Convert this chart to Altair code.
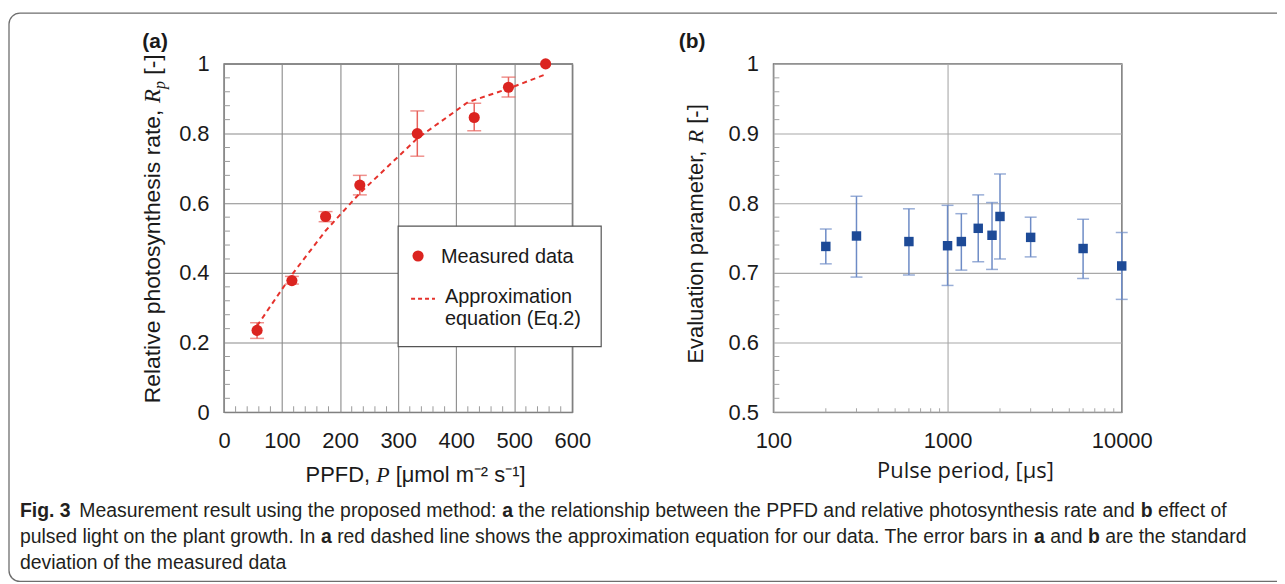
import altair as alt
import pandas as pd

# ---------------- panel (a): PPFD vs relative photosynthesis rate ----------------
ppfd = [57, 117, 175, 234, 333, 431, 490, 554]
rp_mean = [0.235, 0.378, 0.562, 0.652, 0.800, 0.846, 0.933, 1.000]
rp_low = [0.212, 0.368, 0.547, 0.624, 0.735, 0.808, 0.905, 1.000]
rp_high = [0.257, 0.390, 0.576, 0.680, 0.865, 0.887, 0.962, 1.000]
fit_ppfd = [57, 117, 175, 234, 333, 420, 490, 554]
fit_rp = [0.248, 0.395, 0.521, 0.629, 0.786, 0.890, 0.929, 0.970]

# ---------------- panel (b): pulse period vs evaluation parameter ----------------
period = [200, 300, 600, 1000, 1200, 1500, 1800, 2000, 3000, 6000, 10000]
r_mean = [0.738, 0.753, 0.745, 0.739, 0.745, 0.764, 0.754, 0.781, 0.751, 0.735, 0.710]
r_low = [0.713, 0.694, 0.697, 0.682, 0.704, 0.716, 0.705, 0.720, 0.723, 0.692, 0.662]
r_high = [0.763, 0.810, 0.792, 0.797, 0.785, 0.812, 0.801, 0.842, 0.780, 0.777, 0.758]

# ---------------- axis tick values ----------------
xa_major = [0, 100, 200, 300, 400, 500, 600]
ya_major = [0, 0.2, 0.4, 0.6, 0.8, 1.0]
xa_minor = [v for v in range(20, 600, 20) if v % 100]
ya_minor = [round(0.04 * i, 2) for i in range(1, 25) if i % 5]
xb_major = [100, 1000, 10000]
yb_major = [0.5, 0.6, 0.7, 0.8, 0.9, 1.0]
xb_minor = [200, 300, 400, 500, 600, 700, 800, 900, 2000, 3000, 4000, 5000, 6000, 7000, 8000, 9000]
yb_minor = [round(0.5 + 0.02 * i, 2) for i in range(1, 25) if i % 5]

# ---------------- caption text ----------------
caption_lines = [
    [("Fig. 3", True), ("Measurement result using the proposed method:", False), ("a", True),
     ("the relationship between the PPFD and relative photosynthesis rate and", False), ("b", True),
     ("effect of", False)],
    [("pulsed light on the plant growth. In", False), ("a", True),
     ("red dashed line shows the approximation equation for our data. The error bars in", False),
     ("a", True), ("and", False), ("b", True), ("are the standard", False)],
    [("deviation of the measured data", False)],
]

# ---------------- styling ----------------
SANS = "Liberation Sans"
SERIF = "Liberation Serif"
RED = "#db2420"
RED_ERR = "#e8625c"
RED_LINE = "#e5322c"
BLUE = "#1d4a97"
BLUE_ERR = "#6d8bc6"
TXT = "#1a1a1a"
W = H = 350

# Arial / Liberation Sans advance widths (per 1000 em)
_reg = dict(zip("abcdefghijklmnopqrstuvwxyz",
                [556, 556, 500, 556, 556, 278, 556, 556, 222, 222, 500, 222, 833, 556, 556, 556, 556, 333, 500,
                 278, 556, 500, 722, 500, 500, 500]))
_reg.update(dict(zip("ABCDEFGHIJKLMNOPQRSTUVWXYZ",
                     [667, 667, 722, 722, 667, 611, 778, 722, 278, 500, 667, 556, 833, 722, 778, 667, 778, 722,
                      667, 611, 722, 667, 944, 667, 667, 611])))
_reg.update({" ": 278, ".": 278, ",": 278, ":": 278, "3": 556, "-": 333, "[": 278, "]": 278})
_bold = dict(zip("abcdefghijklmnopqrstuvwxyz",
                 [556, 611, 556, 611, 556, 333, 611, 611, 278, 278, 556, 278, 889, 611, 611, 611, 611, 389, 556,
                  333, 611, 556, 778, 556, 556, 500]))
_bold.update({" ": 278, ".": 278, "3": 556, "F": 611})


def tw(s, size, bold=False):
    table = _bold if bold else _reg
    return sum(table.get(c, 556) for c in s) * size / 1000.0


ONE = pd.DataFrame({"k": [0]})


def txt(s, x, y, size=22, font=SANS, weight="normal", style="normal", align="left",
        baseline="alphabetic", angle=None, color=TXT):
    kw = dict(text=s, font=font, fontSize=size, fontWeight=weight, fontStyle=style,
              align=align, baseline=baseline, color=color)
    if angle is not None:
        kw["angle"] = angle
    return alt.Chart(ONE).mark_text(**kw).encode(x=alt.value(x), y=alt.value(y))


axis_common = dict(domain=False, ticks=False, tickSize=0, grid=True, gridWidth=1.1, title=None,
                   labelFont=SANS, labelFontSize=22, labelColor=TXT, labelOverlap=False, labelFlush=False)

# ================= panel (a) =================
OXA, OYA = 225, 62  # page position of panel (a) plot origin
xa = alt.Scale(domain=[0, 600], nice=False, zero=False)
ya = alt.Scale(domain=[0, 1], nice=False)
AXA_X = alt.Axis(values=xa_major, format="d", labelPadding=18, gridColor="#8a8a8a", **axis_common)
AXA_Y = alt.Axis(values=ya_major, format="~g", labelPadding=15, gridColor="#8a8a8a", **axis_common)

df_a = pd.DataFrame({"p": ppfd, "r": rp_mean, "lo": rp_low, "hi": rp_high})
df_a_err = df_a[df_a["hi"] > df_a["lo"]]
df_fit = pd.DataFrame({"p": fit_ppfd, "r": fit_rp})

frame = alt.Chart(ONE).mark_rect(fill=None, stroke="#6e6e6e", strokeWidth=1.3, cornerRadius=11).encode(
    x=alt.value(9 - OXA), x2=alt.value(1300 - OXA), y=alt.value(11 - OYA), y2=alt.value(582 - OYA))

a_minx = alt.Chart(pd.DataFrame({"v": xa_minor})).mark_rule(color="#9a9a9a", strokeWidth=1).encode(
    x=alt.X("v:Q", scale=xa, axis=AXA_X), y=alt.value(H), y2=alt.value(H - 6))
a_miny = alt.Chart(pd.DataFrame({"v": ya_minor})).mark_rule(color="#9a9a9a", strokeWidth=1).encode(
    y=alt.Y("v:Q", scale=ya, axis=AXA_Y), x=alt.value(0), x2=alt.value(6))

a_err = alt.Chart(df_a_err).mark_rule(color=RED_ERR, strokeWidth=1.5).encode(
    x=alt.X("p:Q", scale=xa, axis=AXA_X), y=alt.Y("lo:Q", scale=ya, axis=AXA_Y), y2="hi:Q")
a_cap_lo = alt.Chart(df_a_err).mark_tick(color=RED_ERR, orient="horizontal", size=14, thickness=1.5).encode(
    x=alt.X("p:Q", scale=xa, axis=AXA_X), y=alt.Y("lo:Q", scale=ya, axis=AXA_Y))
a_cap_hi = alt.Chart(df_a_err).mark_tick(color=RED_ERR, orient="horizontal", size=14, thickness=1.5).encode(
    x=alt.X("p:Q", scale=xa, axis=AXA_X), y=alt.Y("hi:Q", scale=ya, axis=AXA_Y))
a_fit = alt.Chart(df_fit).mark_line(color=RED_LINE, strokeWidth=2, strokeDash=[5, 4]).encode(
    x=alt.X("p:Q", scale=xa, axis=AXA_X), y=alt.Y("r:Q", scale=ya, axis=AXA_Y))
a_pts = alt.Chart(df_a).mark_circle(color=RED, size=125, opacity=1).encode(
    x=alt.X("p:Q", scale=xa, axis=AXA_X), y=alt.Y("r:Q", scale=ya, axis=AXA_Y))

# legend box of panel (a)
leg_box = alt.Chart(ONE).mark_rect(fill="white", stroke="#555555", strokeWidth=1.2).encode(
    x=alt.value(175), x2=alt.value(379), y=alt.value(163), y2=alt.value(284))
leg_pt = alt.Chart(ONE).mark_circle(color=RED, size=125, opacity=1).encode(x=alt.value(195), y=alt.value(193))
leg_line = alt.Chart(ONE).mark_rule(color=RED_LINE, strokeWidth=2, strokeDash=[4, 3]).encode(
    x=alt.value(188), x2=alt.value(212), y=alt.value(236))
leg_t1 = txt("Measured data", 218, 200, size=20)
leg_t2 = txt("Approximation", 222, 240, size=20)
leg_t3 = txt("equation (Eq.2)", 222, 262, size=20)

# axis titles of panel (a), composed of sans + italic serif parts
xt_x0 = 307 - OXA
xt_b = 482 - OYA
s1 = "PPFD,"
a_xt1 = txt(s1, xt_x0, xt_b, size=22)
x_p = xt_x0 + tw(s1 + " ", 22)
a_xt2 = txt("P", x_p, xt_b, size=22, font=SERIF, style="italic")
a_xt3 = txt("[μmol m⁻² s⁻¹]", x_p + 0.611 * 22 + tw(" ", 22), xt_b, size=22)

yt_x = 161 - OXA
yt_y0 = 403 - OYA
s2 = "Relative photosynthesis rate,"
a_yt1 = txt(s2, yt_x, yt_y0, size=23, angle=270)
y_r = yt_y0 - tw(s2 + " ", 23)
a_yt2 = txt("R", yt_x, y_r, size=23, font=SERIF, style="italic", angle=270)
a_yt3 = txt("p", yt_x + 5, y_r - 0.611 * 23, size=16, font=SERIF, style="italic", angle=270)
a_yt4 = txt("[-]", yt_x, y_r - 0.611 * 23 - 0.5 * 16 - tw(" ", 23), size=23, angle=270)

a_lab = txt("(a)", 143 - OXA, 46 - OYA, size=21, weight="bold")

# caption
cap_layers = []
CAP = 19.5
for i, line in enumerate(caption_lines):
    x = 20 - OXA
    yb = [517, 543, 569][i] - OYA
    for j, (seg, bold) in enumerate(line):
        cap_layers.append(txt(seg, x, yb, size=CAP, weight="bold" if bold else "normal", color="#231f20"))
        x += tw(seg, CAP, bold) + tw(" ", CAP)
        if seg == "Fig. 3":
            x += tw(" ", CAP) * 0.6

panel_a = alt.layer(
    frame, a_minx, a_miny, a_err, a_cap_lo, a_cap_hi, a_fit, a_pts,
    leg_box, leg_pt, leg_line, leg_t1, leg_t2, leg_t3,
    a_xt1, a_xt2, a_xt3, a_yt1, a_yt2, a_yt3, a_yt4, a_lab, *cap_layers
).properties(width=W, height=H)

# ================= panel (b) =================
OXB, OYB = 772, 62
xb = alt.Scale(type="log", domain=[100, 10000], nice=False)
yb = alt.Scale(domain=[0.5, 1.0], nice=False, zero=False)
AXB_X = alt.Axis(values=xb_major, format="d", labelPadding=18, gridColor="#a8a8a8", **axis_common)
AXB_Y = alt.Axis(values=yb_major, format="~g", labelPadding=15, gridColor="#a8a8a8", **axis_common)
df_b = pd.DataFrame({"t": period, "r": r_mean, "lo": r_low, "hi": r_high})

b_minx = alt.Chart(pd.DataFrame({"v": xb_minor})).mark_rule(color="#a5a5a5", strokeWidth=1).encode(
    x=alt.X("v:Q", scale=xb, axis=AXB_X), y=alt.value(H), y2=alt.value(H - 4))
b_miny = alt.Chart(pd.DataFrame({"v": yb_minor})).mark_rule(color="#a5a5a5", strokeWidth=1).encode(
    y=alt.Y("v:Q", scale=yb, axis=AXB_Y), x=alt.value(0), x2=alt.value(6))
b_err = alt.Chart(df_b).mark_rule(color=BLUE_ERR, strokeWidth=1.5).encode(
    x=alt.X("t:Q", scale=xb, axis=AXB_X), y=alt.Y("lo:Q", scale=yb, axis=AXB_Y), y2="hi:Q")
b_cap_lo = alt.Chart(df_b).mark_tick(color=BLUE_ERR, orient="horizontal", size=12, thickness=1.5).encode(
    x=alt.X("t:Q", scale=xb, axis=AXB_X), y=alt.Y("lo:Q", scale=yb, axis=AXB_Y))
b_cap_hi = alt.Chart(df_b).mark_tick(color=BLUE_ERR, orient="horizontal", size=12, thickness=1.5).encode(
    x=alt.X("t:Q", scale=xb, axis=AXB_X), y=alt.Y("hi:Q", scale=yb, axis=AXB_Y))
b_pts = alt.Chart(df_b).mark_square(color=BLUE, size=90, opacity=1).encode(
    x=alt.X("t:Q", scale=xb, axis=AXB_X), y=alt.Y("r:Q", scale=yb, axis=AXB_Y))

b_xt = txt("Pulse period, [μs]", 965 - OXB, 478 - OYB, size=22, font="Open Sans", align="center")
byt_x = 701 - OXB
byt_y0 = 363 - OYB
s3 = "Evaluation parameter,"
b_yt1 = txt(s3, byt_x, byt_y0, size=22, angle=270)
y_rb = byt_y0 - tw(s3 + " ", 22)
b_yt2 = txt("R", byt_x, y_rb, size=22, font=SERIF, style="italic", angle=270)
b_yt3 = txt("[-]", byt_x, y_rb - 0.611 * 22 - tw(" ", 22), size=22, angle=270)
b_lab = txt("(b)", 677 - OXB, 46 - OYB, size=21, weight="bold")

panel_b = alt.layer(
    b_minx, b_miny, b_err, b_cap_lo, b_cap_hi, b_pts, b_xt, b_yt1, b_yt2, b_yt3, b_lab
).properties(width=W, height=H)

chart = alt.hconcat(panel_a, panel_b, spacing=202, bounds="flush").properties(
    autosize=alt.AutoSizeParams(type="none"),
    padding={"left": OXA - 8, "top": OYA - 8, "right": 1283 - OXA, "bottom": 572 - OYA},
    background="white",
).configure_view(stroke="#666666", strokeWidth=1.4)

chart.save("out.html", embed_options={"renderer": "svg", "actions": False})
